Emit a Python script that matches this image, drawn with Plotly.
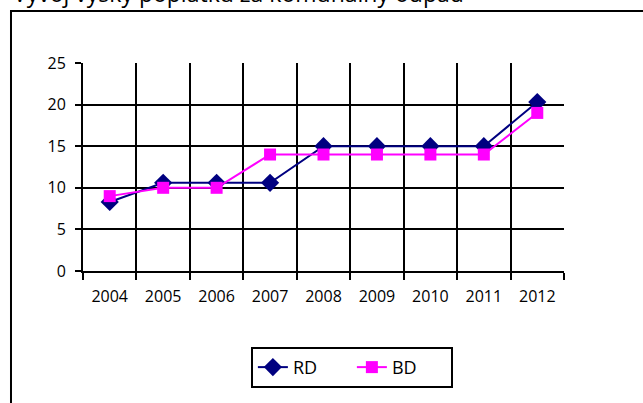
import plotly.graph_objects as go

years = ["2004", "2005", "2006", "2007", "2008", "2009", "2010", "2011", "2012"]
rd = [8.3, 10.6, 10.6, 10.6, 15.0, 15.0, 15.0, 15.0, 20.3]
bd = [9.0, 10.0, 10.0, 14.0, 14.0, 14.0, 14.0, 14.0, 19.0]

font = "Open Sans"

fig = go.Figure()
fig.add_trace(go.Scatter(x=years, y=rd, name="RD", mode="lines+markers",
                         line=dict(color="#000080", width=2),
                         marker=dict(symbol="diamond", size=14, color="#000080")))
fig.add_trace(go.Scatter(x=years, y=bd, name="BD", mode="lines+markers",
                         line=dict(color="#FF00FF", width=2),
                         marker=dict(symbol="square", size=12, color="#FF00FF")))

fig.update_layout(
    width=643, height=403,
    margin=dict(l=83, r=79, t=63, b=132),
    paper_bgcolor="white", plot_bgcolor="white",
    font=dict(family=font, size=16, color="black"),
    showlegend=True,
    legend=dict(orientation="h", x=0.559, xanchor="center", y=-0.365, yanchor="top",
                bordercolor="black", borderwidth=2, bgcolor="white",
                font=dict(size=18), entrywidth=54, entrywidthmode="pixels"),
)
fig.update_xaxes(type="category", range=[-0.5, 8.5], tickson="boundaries", ticks="outside",
                 ticklen=7, tickwidth=2, tickcolor="black", showgrid=True, gridcolor="black",
                 gridwidth=2, showline=True, linecolor="black", linewidth=2,
                 ticklabelstandoff=10)
fig.update_yaxes(range=[0, 25], dtick=5, ticks="outside", ticklen=6, tickwidth=2,
                 tickcolor="black", showgrid=True, gridcolor="black", gridwidth=2,
                 showline=True, linecolor="black", linewidth=2, zeroline=False,
                 ticklabelstandoff=6)

# outer chart frame, cut off by the page on the right and bottom
fig.add_shape(type="rect", xref="paper", yref="paper", x0=-0.1497, x1=1.3,
              y0=-0.8, y1=1.25, line=dict(color="black", width=2), layer="below")

fig.add_annotation(text="Vývoj výšky poplatku za komunálny odpad", xref="paper", yref="paper",
                   x=-0.15, xanchor="left", y=1.249, yanchor="bottom", showarrow=False,
                   font=dict(size=23, family=font, color="black"))

fig.write_html("out.html", config={"displayModeBar": False},
               post_script="document.body.style.margin='0';")
